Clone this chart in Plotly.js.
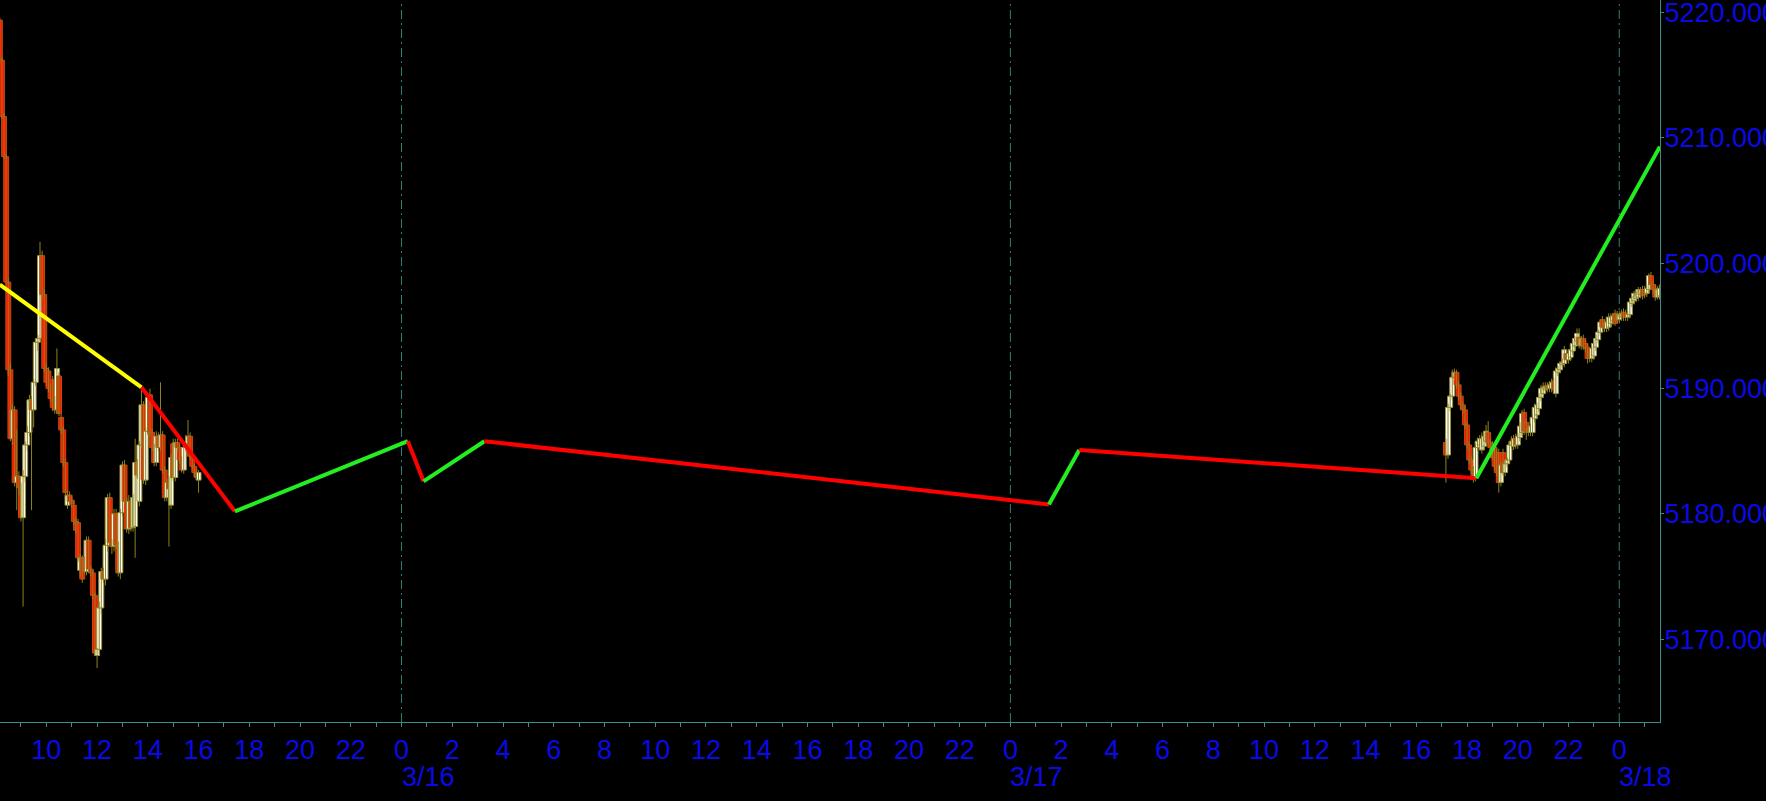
<!DOCTYPE html>
<html>
<head>
<meta charset="utf-8">
<script src="https://cdn.plot.ly/plotly-3.0.1.min.js"></script>
<style>
  html, body { margin: 0; padding: 0; background: #000; }
  #chart { width: 1766px; height: 801px; }
</style>
</head>
<body>
<div id="chart"></div>
<script>
// ---------- DATA ----------
// Friday 3/15 session, 5-minute bars starting 08:10
const friStart = '2024-03-15 08:10';
const friOpen = [5219.4,5216.2,5211.7,5208.5,5198.5,5191.5,5186.0,5188.3,5182.5,5183.0,
  5182.1,5179.7,5183.0,5185.5,5186.5,5189.1,5188.3,5190.5,5193.7,5194.0,
  5200.6,5197.5,5191.6,5191.4,5190.0,5190.7,5189.1,5188.3,5191.0,5187.7,
  5186.7,5184.1,5180.7,5181.5,5181.1,5180.7,5179.4,5179.3,5175.5,5176.5,
  5176.3,5175.4,5177.9,5175.6,5175.3,5173.5,5168.7,5169.2,5172.5,5175.4,
  5174.8,5177.5,5181.3,5177.7,5177.4,5180.0,5177.5,5175.3,5180.1,5183.9,
  5181.0,5178.8,5181.0,5178.9,5179.0,5184.1,5181.0,5185.5,5188.7,5182.7,
  5186.6,5189.5,5186.5,5185.3,5184.1,5186.2,5185.3,5186.3,5183.5,5181.3,
  5182.5,5180.7,5185.6,5182.9,5185.7,5185.3,5184.3,5183.5,5185.3,5185.6,
  5186.2,5184.6,5183.8,5183.3,5182.7];
const friHigh = [5219.6,5216.4,5212.0,5208.7,5198.8,5192.0,5188.8,5188.6,5186.7,5183.4,
  5182.5,5183.5,5185.8,5187.0,5189.5,5189.4,5190.8,5194.0,5194.3,5201.7,
  5201.0,5197.9,5192.0,5191.7,5190.4,5191.0,5189.4,5193.2,5191.3,5188.0,
  5187.0,5184.4,5181.9,5181.8,5181.4,5181.0,5179.7,5179.6,5176.8,5176.7,
  5176.6,5178.2,5178.2,5175.9,5175.5,5173.7,5169.3,5173.0,5175.7,5175.7,
  5178.0,5181.6,5181.7,5178.0,5180.4,5180.4,5177.8,5180.4,5184.2,5184.3,
  5181.3,5181.5,5181.3,5181.6,5186.0,5184.4,5185.8,5190.1,5189.0,5186.9,
  5189.6,5190.0,5186.8,5185.6,5186.6,5186.5,5190.5,5186.6,5183.8,5182.8,
  5183.0,5184.8,5186.0,5186.0,5186.0,5185.6,5184.6,5185.6,5186.3,5187.5,
  5186.5,5184.9,5184.0,5183.6,5183.5];
const friLow = [5216.0,5211.5,5208.3,5198.3,5191.0,5185.8,5185.5,5182.2,5180.3,5181.5,
  5179.4,5172.6,5182.5,5185.0,5186.2,5180.3,5186.9,5190.2,5193.0,5193.8,
  5197.2,5191.3,5190.2,5189.7,5188.9,5188.2,5188.0,5188.0,5187.8,5186.4,
  5183.8,5181.4,5180.4,5180.7,5180.5,5179.1,5178.4,5176.2,5175.0,5174.5,
  5175.2,5175.1,5175.3,5175.0,5173.2,5168.7,5167.7,5168.8,5172.0,5174.5,
  5174.3,5177.0,5177.5,5176.8,5177.0,5177.2,5175.0,5174.8,5179.8,5180.8,
  5178.5,5178.4,5178.6,5178.6,5176.5,5182.8,5180.6,5185.2,5182.4,5182.3,
  5186.3,5186.2,5185.0,5183.8,5183.8,5185.0,5185.0,5183.2,5181.0,5181.0,
  5177.4,5180.4,5182.6,5182.6,5185.0,5184.0,5183.3,5183.2,5185.0,5185.3,
  5184.3,5183.5,5183.0,5182.7,5181.7];
const friClose = [5216.2,5211.7,5208.5,5198.5,5191.5,5186.0,5188.3,5182.5,5183.0,5182.1,
  5179.7,5183.0,5185.5,5186.5,5189.1,5188.3,5190.5,5193.7,5194.0,5200.6,
  5197.5,5191.6,5190.5,5190.0,5189.2,5188.5,5188.3,5191.6,5188.0,5186.7,
  5184.1,5181.7,5181.5,5181.0,5180.8,5179.4,5178.7,5176.5,5176.5,5174.8,
  5175.4,5177.9,5175.6,5175.3,5173.5,5168.9,5169.2,5172.5,5175.4,5174.8,
  5177.5,5181.3,5177.7,5177.4,5180.0,5177.5,5175.3,5180.1,5183.9,5181.0,
  5178.8,5181.0,5178.9,5181.3,5184.1,5183.1,5185.5,5188.7,5182.7,5186.6,
  5189.3,5186.5,5185.3,5184.1,5186.2,5185.3,5186.3,5183.5,5181.3,5182.5,
  5182.0,5184.5,5182.9,5185.7,5185.3,5184.3,5183.5,5185.3,5185.6,5186.2,
  5184.6,5183.8,5183.3,5182.9,5183.3];

// Sunday 3/17 evening session, 5-minute bars starting 17:10
const sunStart = '2024-03-17 17:10';
const sunOpen = [5185.7,5184.7,5188.5,5189.4,5190.9,5191.3,5190.3,5189.4,5188.7,5188.3,
  5187.1,5185.5,5184.3,5183.5,5182.9,5185.3,5185.5,5185.1,5185.4,5185.8,
  5186.5,5185.7,5185.5,5185.3,5184.9,5184.9,5182.5,5184.9,5183.3,5184.0,
  5184.3,5185.5,5185.4,5186.0,5185.5,5186.1,5186.5,5188.1,5187.3,5186.8,
  5186.5,5186.5,5187.6,5187.9,5188.4,5189.3,5189.6,5189.9,5190.2,5190.0,
  5190.0,5190.6,5189.6,5191.3,5191.5,5191.9,5192.0,5192.8,5192.3,5192.5,
  5193.0,5193.4,5193.8,5194.1,5193.4,5194.0,5193.6,5193.3,5192.9,5192.4,
  5192.6,5193.3,5193.9,5194.5,5195.5,5195.2,5194.8,5194.9,5195.2,5195.4,
  5196.0,5195.9,5195.5,5195.7,5196.1,5196.0,5195.7,5195.9,5196.8,5197.0,
  5197.2,5197.3,5197.5,5197.9,5197.9,5197.6,5197.9,5199.0,5198.3,5198.0,
  5197.3,5197.4];
const sunHigh = [5186.0,5188.8,5189.6,5191.5,5191.6,5191.5,5190.6,5189.7,5189.0,5188.6,
  5187.4,5185.8,5184.6,5183.8,5185.6,5186.1,5186.3,5186.5,5186.5,5187.1,
  5187.4,5186.0,5185.8,5185.6,5185.2,5185.2,5184.2,5185.2,5184.3,5184.5,
  5185.8,5186.2,5186.3,5186.4,5186.5,5187.3,5188.3,5188.4,5187.6,5187.1,
  5187.2,5187.9,5188.8,5188.9,5189.6,5190.3,5190.5,5190.5,5190.5,5190.6,
  5190.8,5190.9,5191.7,5191.8,5192.2,5192.4,5193.4,5193.1,5193.1,5193.4,
  5193.9,5194.2,5194.8,5194.8,5194.2,5194.3,5193.9,5193.6,5193.2,5193.4,
  5193.9,5194.3,5194.7,5195.5,5195.8,5195.5,5195.6,5196.0,5196.0,5196.0,
  5196.3,5196.2,5196.2,5196.3,5196.4,5196.3,5196.2,5197.1,5197.4,5197.8,
  5197.8,5198.1,5198.1,5198.2,5198.2,5198.3,5199.2,5199.3,5198.6,5198.3,
  5198.2,5198.3];
const sunLow = [5182.5,5184.4,5188.2,5189.1,5190.6,5190.0,5189.1,5188.4,5188.0,5186.8,
  5185.2,5184.0,5183.2,5182.5,5182.6,5185.0,5185.1,5184.8,5185.1,5185.5,
  5185.4,5185.0,5184.3,5183.5,5183.0,5181.7,5182.2,5183.1,5183.0,5183.7,
  5184.0,5185.2,5185.1,5185.2,5185.2,5185.8,5186.2,5186.3,5185.9,5186.2,
  5186.2,5186.2,5187.3,5187.6,5188.1,5189.0,5189.3,5189.6,5189.7,5189.7,
  5189.7,5189.6,5189.3,5191.0,5191.2,5191.6,5191.7,5192.0,5192.0,5192.2,
  5192.7,5193.1,5193.5,5193.2,5193.1,5193.1,5192.9,5192.0,5192.1,5192.1,
  5192.3,5193.0,5193.6,5194.2,5194.6,5194.5,5194.5,5194.6,5194.9,5195.1,
  5195.0,5195.2,5195.2,5195.4,5195.4,5195.4,5195.4,5195.6,5196.5,5196.7,
  5196.9,5197.0,5197.2,5197.1,5197.2,5197.3,5197.6,5198.0,5197.6,5197.0,
  5197.1,5197.1];
const sunClose = [5184.7,5188.5,5189.4,5190.9,5191.3,5190.3,5189.4,5188.7,5188.3,5187.1,
  5185.5,5184.3,5183.5,5182.8,5185.3,5185.8,5186.0,5186.0,5186.2,5186.6,
  5185.7,5185.3,5184.5,5183.8,5183.3,5182.5,5183.9,5183.3,5184.0,5184.3,
  5185.5,5185.8,5186.0,5185.5,5186.2,5187.0,5188.0,5186.6,5186.5,5186.5,
  5187.0,5187.7,5188.5,5188.7,5189.3,5190.0,5190.1,5190.2,5190.0,5190.3,
  5190.5,5189.9,5191.4,5191.6,5192.0,5192.1,5193.1,5192.3,5192.8,5193.1,
  5193.6,5194.0,5194.4,5193.5,5194.0,5193.4,5193.2,5192.4,5192.4,5193.2,
  5193.6,5194.0,5194.5,5195.3,5194.9,5194.8,5195.3,5195.7,5195.7,5195.8,
  5195.2,5195.5,5195.9,5196.0,5195.7,5195.7,5195.9,5196.9,5197.2,5197.6,
  5197.5,5197.9,5197.9,5197.4,5197.5,5198.0,5199.0,5198.3,5197.9,5197.3,
  5197.9,5198.0];

// ZigZag pivots and leg colours
const zzTime = ['2024-03-15 08:10','2024-03-15 13:45','2024-03-15 17:26','2024-03-16 00:15',
  '2024-03-16 00:52','2024-03-16 03:16','2024-03-17 01:31','2024-03-17 02:43',
  '2024-03-17 18:22','2024-03-18 01:36'];
const zzValue = [5198.3,5190.1,5180.2,5185.8,5182.6,5185.8,5180.75,5185.1,5182.85,5209.3];
const zzLegColor = ['#ffff00','#ff0000','#22ee22','#ff0000','#22ee22','#ff0000','#22ee22','#ff0000','#22ee22'];

const dayLines = ['2024-03-16','2024-03-17','2024-03-18'];
const dayLabels = ['3/16','3/17','3/18'];
const xRange = ['2024-03-15 08:10:24','2024-03-18 01:36:18'];
const yRange = [5163.4, 5221.0];

// ---------- STYLE ----------
const BLUE = '#0a0ae6';
const TEAL = '#3a8f8a';
const FONT = 'Liberation Sans, Arial, sans-serif';
const FS = 27;
const BAR_MS = 5 * 60 * 1000;
const BODY_MS = 700000;

function times(start, n) {
  const m = start.match(/(\d+)-(\d+)-(\d+) (\d+):(\d+)/);
  const t0 = Date.UTC(+m[1], +m[2]-1, +m[3], +m[4], +m[5]);
  const out = [];
  for (let i = 0; i < n; i++) out.push(new Date(t0 + i*BAR_MS).toISOString().slice(0,19).replace('T',' '));
  return out;
}

const T = times(friStart, friOpen.length).concat(times(sunStart, sunOpen.length));
const O = friOpen.concat(sunOpen), H = friHigh.concat(sunHigh), L = friLow.concat(sunLow), C = friClose.concat(sunClose);

// wicks
const wx = [], wy = [];
T.forEach((t,i) => { wx.push(t,t,null); wy.push(H[i],L[i],null); });
// bodies
const base = O.map((o,i) => Math.min(o, C[i]));
const len = O.map((o,i) => Math.max(Math.abs(C[i]-o), 0.04));
const up = O.map((o,i) => C[i] >= o);
const fill = up.map(u => u ? '#ffffff' : '#ff1800');
const edge = up.map(u => u ? '#9c9430' : '#b85010');

const traces = [
  {type:'scatter', mode:'lines', x: wx, y: wy, line:{color:'#8a8420', width:1}, hoverinfo:'skip'},
  {type:'bar', x: T, y: len, base: base, width: BODY_MS,
   marker:{color: fill, line:{color: edge, width:1}}, hoverinfo:'skip'}
];
for (let i = 0; i < zzLegColor.length; i++) {
  traces.push({type:'scatter', mode:'lines', x:[zzTime[i], zzTime[i+1]], y:[zzValue[i], zzValue[i+1]],
    line:{color: zzLegColor[i], width:4}, hoverinfo:'skip'});
}

const shapes = dayLines.map(d => ({type:'line', xref:'x', yref:'paper', x0:d, x1:d, y0:0, y1:1, layer:'below',
  line:{color:'#2f7f78', width:1, dash:'9px,4px,2px,4px'}}));
const annotations = dayLines.map((d,i) => ({x:d, xref:'x', y:-0.076, yref:'paper', text: dayLabels[i],
  showarrow:false, xanchor:'left', yanchor:'middle', font:{family:FONT, size:FS, color:BLUE}, xshift:-2}));

const layout = {
  width:1766, height:801,
  paper_bgcolor:'#000', plot_bgcolor:'#000',
  margin:{l:0, r:106, t:0, b:79, pad:0},
  showlegend:false, barmode:'overlay', hovermode:false,
  font:{family:FONT, size:FS, color:BLUE},
  xaxis:{type:'date', range:xRange, tickformat:'%-H', dtick:2*3600000, tick0:'2024-03-15 00:00',
    ticks:'outside', ticklen:4, tickcolor:TEAL, showline:true, linecolor:TEAL, linewidth:1,
    showgrid:false, zeroline:false, tickfont:{family:FONT, size:FS, color:BLUE},
    minor:{dtick:3600000, ticks:'outside', ticklen:4, tickcolor:TEAL, showgrid:false}},
  yaxis:{side:'right', range:yRange, dtick:10, tick0:5170, tickformat:'.3f',
    ticks:'outside', ticklen:3, tickcolor:TEAL, showline:true, linecolor:TEAL, linewidth:1,
    showgrid:false, zeroline:false, tickfont:{family:FONT, size:FS, color:BLUE},
    ticklabeloverflow:'allow', ticklabelstandoff:-5},
  shapes: shapes,
  annotations: annotations
};

Plotly.newPlot('chart', traces, layout, {staticPlot:true, displayModeBar:false});
</script>
</body>
</html>
